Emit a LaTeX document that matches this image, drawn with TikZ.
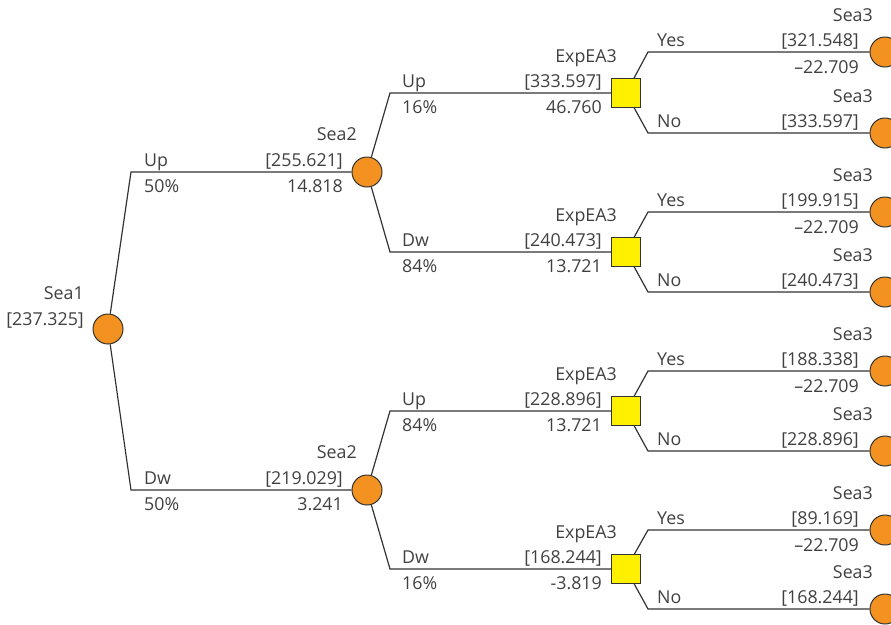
\documentclass[tikz,border=0pt]{standalone}
\usepackage{fontspec}
\setmainfont{Open Sans}
\definecolor{lc}{HTML}{333333}
\definecolor{tc}{HTML}{404040}
\definecolor{orng}{HTML}{F39221}
\definecolor{yel}{HTML}{FFF000}
\begin{document}
\begin{tikzpicture}[x=1pt,y=-1pt,
  every node/.style={font=\fontsize{17.8}{20}\selectfont, text=tc, inner sep=0pt},
  chance/.style={circle, draw=lc, line width=1pt, fill=orng, minimum size=30pt},
  decision/.style={rectangle, draw=lc, line width=1pt, fill=yel, minimum size=29pt},
  lab/.style={anchor=base east},
  blab/.style={anchor=base west},
  edge/.style={draw=lc, line width=1.2pt}]
\useasboundingbox (0,0) rectangle (891,624);
\clip (0,0) rectangle (891,624);
% coordinates
\coordinate (c1) at (131,172);
\coordinate (c2) at (131,490);
\coordinate (c3) at (390,93);
\coordinate (c4) at (390,252);
\coordinate (c5) at (390,411);
\coordinate (c6) at (390,569);
\coordinate (y1) at (648,52);
\coordinate (n1) at (648,133);
\coordinate (y2) at (648,212);
\coordinate (n2) at (648,292);
\coordinate (y3) at (648,371);
\coordinate (n3) at (648,451);
\coordinate (y4) at (648,530);
\coordinate (n4) at (648,609);
% nodes
\node[chance] (s1) at (108,329) {};
\node[chance] (s2a) at (367,172) {};
\node[chance] (s2b) at (367,490) {};
\node[decision] (qa) at (626,93) {};
\node[decision] (qb) at (626,252) {};
\node[decision] (qc) at (626,411) {};
\node[decision] (qd) at (626,569) {};
\node[chance] (t1) at (885,52) {};
\node[chance] (t2) at (885,133) {};
\node[chance] (t3) at (885,212) {};
\node[chance] (t4) at (885,292) {};
\node[chance] (t5) at (885,371) {};
\node[chance] (t6) at (885,451) {};
\node[chance] (t7) at (885,530) {};
\node[chance] (t8) at (885,609) {};
% edges
\draw[edge] (s1) -- (c1) -- (s2a);
\draw[edge] (s1) -- (c2) -- (s2b);
\draw[edge] (s2a) -- (c3) -- (qa);
\draw[edge] (s2a) -- (c4) -- (qb);
\draw[edge] (s2b) -- (c5) -- (qc);
\draw[edge] (s2b) -- (c6) -- (qd);
\draw[edge] (qa) -- (y1) -- (t1);
\draw[edge] (qa) -- (n1) -- (t2);
\draw[edge] (qb) -- (y2) -- (t3);
\draw[edge] (qb) -- (n2) -- (t4);
\draw[edge] (qc) -- (y3) -- (t5);
\draw[edge] (qc) -- (n3) -- (t6);
\draw[edge] (qd) -- (y4) -- (t7);
\draw[edge] (qd) -- (n4) -- (t8);
% labels: Sea1
\node[lab] (l1) at (84,299) {Sea1};
\node[lab] (l2) at (84,325) {[237.325]};
\node[blab] (l3) at (144,166) {Up};
\node[blab] (l4) at (144,192) {50\%};
\node[blab] (l5) at (144,484) {Dw};
\node[blab] (l6) at (144,510) {50\%};
% Sea2
\node[lab] (l7) at (357,140) {Sea2};
\node[lab] (l8) at (343,166) {[255.621]};
\node[lab] (l9) at (343,192) {14.818};
\node[lab] (l10) at (357,458) {Sea2};
\node[lab] (l11) at (343,484) {[219.029]};
\node[lab] (l12) at (343,510) {3.241};
% Sea2 branches
\node[blab] (l13) at (402,87) {Up};
\node[blab] (l14) at (402,113) {16\%};
\node[blab] (l15) at (402,246) {Dw};
\node[blab] (l16) at (402,272) {84\%};
\node[blab] (l17) at (402,405) {Up};
\node[blab] (l18) at (402,431) {84\%};
\node[blab] (l19) at (402,563) {Dw};
\node[blab] (l20) at (402,589) {16\%};
% ExpEA3
\node[lab] (l21) at (617,62) {ExpEA3};
\node[lab] (l22) at (602,87) {[333.597]};
\node[lab] (l23) at (602,113) {46.760};
\node[lab] (l24) at (617,221) {ExpEA3};
\node[lab] (l25) at (602,246) {[240.473]};
\node[lab] (l26) at (602,272) {13.721};
\node[lab] (l27) at (617,380) {ExpEA3};
\node[lab] (l28) at (602,405) {[228.896]};
\node[lab] (l29) at (602,431) {13.721};
\node[lab] (l30) at (617,538) {ExpEA3};
\node[lab] (l31) at (602,563) {[168.244]};
\node[lab] (l32) at (602,589) {-3.819};
% Yes/No
\node[blab] (l33) at (657,46) {Yes};
\node[blab] (l34) at (657,127) {No};
\node[blab] (l35) at (657,206) {Yes};
\node[blab] (l36) at (657,286) {No};
\node[blab] (l37) at (657,365) {Yes};
\node[blab] (l38) at (657,445) {No};
\node[blab] (l39) at (657,524) {Yes};
\node[blab] (l40) at (657,603) {No};
% Sea3
\node[lab] (l41) at (873,21) {Sea3};
\node[lab] (l42) at (859,46) {[321.548]};
\node[lab] (l43) at (859,73) {–22.709};
\node[lab] (l44) at (873,102) {Sea3};
\node[lab] (l45) at (859,127) {[333.597]};
\node[lab] (l46) at (873,181) {Sea3};
\node[lab] (l47) at (859,206) {[199.915]};
\node[lab] (l48) at (859,233) {–22.709};
\node[lab] (l49) at (873,261) {Sea3};
\node[lab] (l50) at (859,286) {[240.473]};
\node[lab] (l51) at (873,340) {Sea3};
\node[lab] (l52) at (859,365) {[188.338]};
\node[lab] (l53) at (859,392) {–22.709};
\node[lab] (l54) at (873,420) {Sea3};
\node[lab] (l55) at (859,445) {[228.896]};
\node[lab] (l56) at (873,499) {Sea3};
\node[lab] (l57) at (859,524) {[89.169]};
\node[lab] (l58) at (859,551) {–22.709};
\node[lab] (l59) at (873,578) {Sea3};
\node[lab] (l60) at (859,603) {[168.244]};
\end{tikzpicture}
\end{document}
